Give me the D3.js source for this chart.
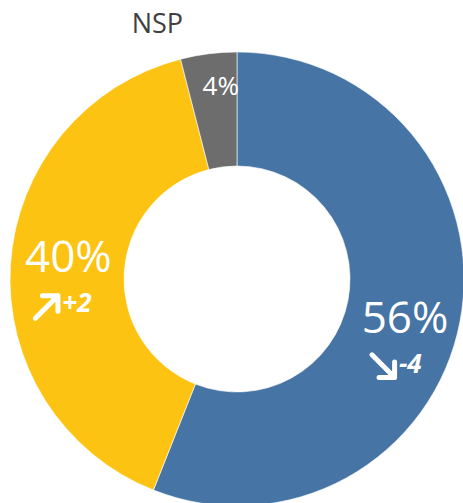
<!DOCTYPE html>
<html lang="en">
  <head>
    <meta charset="utf-8">
    <title>Donut</title>
    <style>
      html, body {
        margin: 0;
        background: #fff;
        font-family: "Open Sans", sans-serif;
      }
      svg { display: block; }
    </style>
    <script src="https://d3js.org/d3.v7.min.js"></script>
  </head>
  <body>
    <svg id="chart" width="463" height="503"></svg>
  </body>
  <script>
  // slice order: clockwise from 12 o'clock
  const categories = ['blue', 'yellow', 'NSP'];
  const values = [56, 40, 4];
  const changes = ['-4', '+2', null];
  const colors = ['#4674a4', '#fdc312', '#6d6d6d'];

  const width = 463, height = 503;
  const cx = 237, cy = 279;
  const outerR = 227, innerR = 113;

  const svg = d3.select('#chart');
  const g = svg.append('g').attr('transform', `translate(${cx},${cy})`);

  const pie = d3.pie().sort(null).value(d => d.value);
  const arc = d3.arc().innerRadius(innerR).outerRadius(outerR);
  const labelArc = d3.arc().innerRadius(170).outerRadius(170);

  const data = categories.map((c, i) => ({ name: c, value: values[i], change: changes[i] }));
  const arcs = pie(data);

  g.selectAll('path.slice')
    .data(arcs)
    .enter().append('path')
    .attr('class', 'slice')
    .attr('d', arc)
    .attr('fill', (d, i) => colors[i])
    .attr('stroke', '#fff')
    .attr('stroke-width', 0.6);

  // hand tweaks for label placement, like the original
  const nudge = [[1, 22, 44], [1, 4, 44], [5, -15, 26]];

  const labels = g.selectAll('g.label')
    .data(arcs)
    .enter().append('g')
    .attr('class', 'label')
    .attr('transform', (d, i) => {
      const [x, y] = labelArc.centroid(d);
      return `translate(${x + nudge[i][0]},${y + nudge[i][1]})`;
    });

  labels.append('text')
    .attr('text-anchor', 'middle')
    .attr('fill', '#fff')
    .style('font-size', (d, i) => nudge[i][2] + 'px')
    .text(d => d.data.value + '%');

  const withChange = labels.filter(d => d.data.change);

  // thick arrow, up for gains and down for losses
  withChange.append('path')
    .attr('transform', d => `translate(-21,34) rotate(${d.data.change[0] === '+' ? -45 : 45})`)
    .attr('d', 'M-17,0 L15,0 M4,-11 L15,0 L4,11')
    .attr('fill', 'none')
    .attr('stroke', '#fff')
    .attr('stroke-width', 5)
    .attr('stroke-linecap', 'round')
    .attr('stroke-linejoin', 'round');

  withChange.append('text')
    .attr('x', -6)
    .attr('y', 40)
    .attr('fill', '#fff')
    .style('font-size', '26px')
    .style('font-weight', 'bold')
    .style('font-style', 'italic')
    .text(d => d.data.change);

  // category name above the small slice
  const nsp = arcs[2];
  svg.append('text')
    .attr('x', cx + labelArc.centroid(nsp)[0] - 84)
    .attr('y', 33)
    .attr('fill', '#404040')
    .style('font-size', '27px')
    .text(nsp.data.name);
  </script>
</html>
